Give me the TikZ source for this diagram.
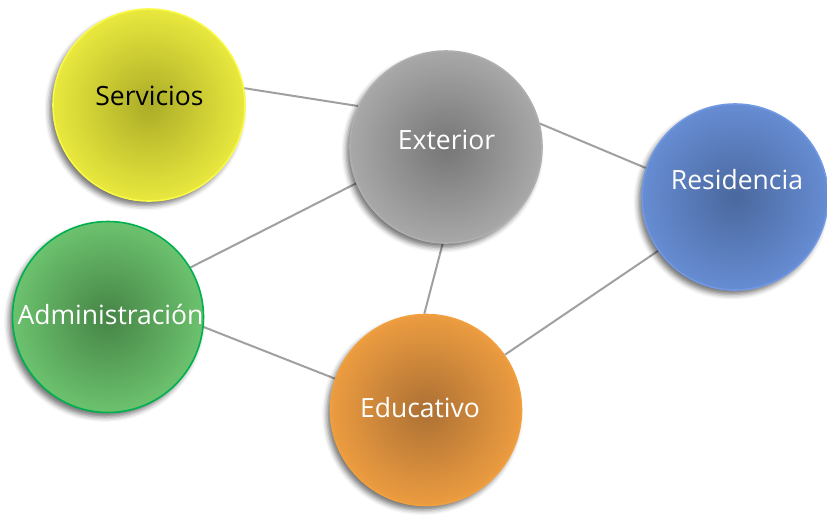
\documentclass[tikz,border=0pt]{standalone}
\usepackage{fontspec}
\setmainfont{Open Sans}
\usetikzlibrary{shadows.blur,backgrounds}
\definecolor{linegray}{RGB}{160,160,160}
\definecolor{yOut}{RGB}{232,232,62}
\definecolor{yIn}{RGB}{172,172,40}
\definecolor{yBor}{RGB}{250,250,70}
\definecolor{gOut}{RGB}{168,168,168}
\definecolor{gIn}{RGB}{118,118,118}
\definecolor{gBor}{RGB}{175,175,175}
\definecolor{bOut}{RGB}{102,140,210}
\definecolor{bIn}{RGB}{74,104,158}
\definecolor{bBor}{RGB}{112,152,228}
\definecolor{aOut}{RGB}{108,194,110}
\definecolor{aIn}{RGB}{70,132,70}
\definecolor{aBor}{RGB}{0,176,80}
\definecolor{oOut}{RGB}{236,156,64}
\definecolor{oIn}{RGB}{172,112,52}
\definecolor{oBor}{RGB}{242,160,62}
\tikzset{
  bubble/.style={circle, inner sep=0pt, line width=1.6pt,
    blur shadow={shadow xshift=-3.5pt, shadow yshift=-4.5pt, shadow blur radius=5pt, shadow opacity=55}},
  conn/.style={draw=linegray, line width=2pt},
  lbl/.style={anchor=base, inner sep=0pt, font=\fontsize{26.5}{31}\selectfont}
}
\begin{document}
\begin{tikzpicture}[x=1pt,y=-1pt]
\useasboundingbox (0,0) rectangle (827,515);
\node[bubble, minimum size=192pt, draw=yBor, inner color=yIn, outer color=yOut] (S) at (149,105) {};
\node[bubble, minimum size=192pt, draw=gBor, inner color=gIn, outer color=gOut] (E) at (446,147) {};
\node[bubble, minimum size=186pt, draw=bBor, inner color=bIn, outer color=bOut] (R) at (735,197) {};
\node[bubble, minimum size=191pt, draw=aBor, inner color=aIn, outer color=aOut] (A) at (108,317) {};
\node[bubble, minimum size=191pt, draw=oBor, inner color=oIn, outer color=oOut] (D) at (426,410) {};
\node[lbl, text=black] (St) at (149.5,105) {Servicios};
\node[lbl, text=white] (Et) at (446.5,149) {Exterior};
\node[lbl, text=white] (Rt) at (737,189) {Residencia};
\node[lbl, text=white] (At) at (110.5,324) {Administración};
\node[lbl, text=white] (Dt) at (420,417) {Educativo};
\begin{scope}[on background layer]
\draw[conn] (S.10) -- (E.155);
\draw[conn] (E.14) -- (R.162);
\draw[conn] (A.31) -- (E.202);
\draw[conn] (E.268) -- (D.91);
\draw[conn] (A.-6) -- (D.161);
\draw[conn] (D.35) -- (R.215);
\end{scope}
\end{tikzpicture}
\end{document}
